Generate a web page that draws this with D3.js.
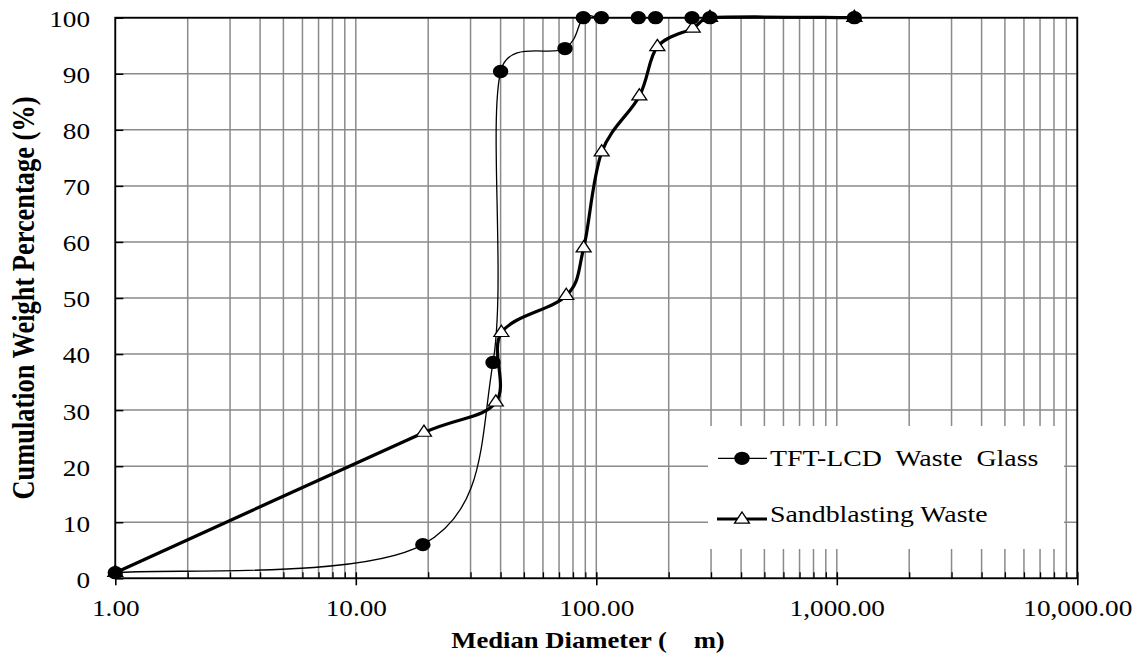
<!DOCTYPE html>
<html>
<head>
<meta charset="utf-8">
<script src="https://cdn.jsdelivr.net/npm/d3@7"></script>
<style>
  html, body { margin: 0; padding: 0; background: #fff; }
  svg { display: block; }
  svg text { font-family: "Liberation Serif", "Times New Roman", Tinos, "DejaVu Serif", serif; fill: #000; }
</style>
</head>
<body>
<svg id="chart" width="1137" height="662"></svg>
<script>
// Cumulative particle size distribution of two waste materials (sieve sizes in µm)
const tftSize  = [1, 19, 37.2, 40, 74.1, 88.3, 105, 149.5, 176.4, 250, 297, 1183];
const tftPct   = [1, 6, 38.5, 90.4, 94.5, 100, 100, 100, 100, 100, 100, 100];
const sandSize = [1, 19.2, 38.2, 40.3, 75, 88.6, 105.3, 151, 179.4, 251.7, 297, 1183];
const sandPct  = [1, 26, 31.4, 43.8, 50.4, 58.9, 76, 86, 94.8, 98.1, 100, 100];

const seriesNames = ["TFT-LCD  Waste  Glass", "Sandblasting Waste"];
const xTickValues = [1, 10, 100, 1000, 10000];
const xTickLabels = ["1.00", "10.00", "100.00", "1,000.00", "10,000.00"];
const yTickValues = [0, 10, 20, 30, 40, 50, 60, 70, 80, 90, 100];
const xTitle = "Median Diameter (    m)";
const yTitle = "Cumulation Weight Percentage (%)";

const sx = 1.16;            // horizontal stretch applied to text and markers
const gridColor = "#8a8a8a";

const svg = d3.select("#chart");
const plotL = 115.3, plotR = 1077.3, plotT = 17.7, plotB = 578.3;

const x = d3.scaleLog().domain([1, 10000]).range([plotL, plotR]);
const y = d3.scaleLinear().domain([0, 100]).range([plotB, plotT]);

// Smoothed line: Bezier segments with Catmull-Rom style tangents (1/6 of the
// neighbour span), each control arm limited to half of its segment's chord.
function smoothCurve(context) {
  let pts;
  return {
    areaStart() {}, areaEnd() {},
    lineStart() { pts = []; },
    point(px, py) { pts.push([+px, +py]); },
    lineEnd() {
      const n = pts.length;
      if (!n) return;
      context.moveTo(pts[0][0], pts[0][1]);
      for (let i = 0; i < n - 1; i++) {
        const p0 = pts[Math.max(i - 1, 0)], p1 = pts[i], p2 = pts[i + 1], p3 = pts[Math.min(i + 2, n - 1)];
        const half = 0.5 * Math.hypot(p2[0] - p1[0], p2[1] - p1[1]);
        const cap = v => {
          const l = Math.hypot(v[0], v[1]);
          return l > half ? [v[0] * half / l, v[1] * half / l] : v;
        };
        const t1 = cap([(p2[0] - p0[0]) / 6, (p2[1] - p0[1]) / 6]);
        const t2 = cap([(p3[0] - p1[0]) / 6, (p3[1] - p1[1]) / 6]);
        context.bezierCurveTo(p1[0] + t1[0], p1[1] + t1[1], p2[0] - t2[0], p2[1] - t2[1], p2[0], p2[1]);
      }
    }
  };
}

// grid
const grid = svg.append("g");
grid.selectAll("line.v").data(x.ticks()).join("line").attr("class", "v")
  .attr("x1", d => x(d)).attr("x2", d => x(d))
  .attr("y1", plotT).attr("y2", plotB)
  .attr("stroke", gridColor).attr("stroke-width", 1.5);
grid.selectAll("line.h").data(yTickValues).join("line").attr("class", "h")
  .attr("x1", plotL).attr("x2", plotR)
  .attr("y1", d => y(d)).attr("y2", d => y(d))
  .attr("stroke", gridColor).attr("stroke-width", 1.5);

// legend background hides the grid underneath
svg.append("rect").attr("x", 708).attr("y", 426).attr("width", 356).attr("height", 123).attr("fill", "#fff");

// frame
svg.append("rect").attr("x", plotL).attr("y", plotT)
  .attr("width", plotR - plotL).attr("height", plotB - plotT)
  .attr("fill", "none").attr("stroke", "#000").attr("stroke-width", 1.8);

// x axis: minor ticks inside, major ticks crossing with labels
const minor = x.ticks().filter(d => !xTickValues.includes(d));
svg.append("g").attr("transform", `translate(0,${plotB})`)
  .call(d3.axisBottom(x).tickValues(minor).tickSizeInner(-6).tickSizeOuter(0).tickFormat(""))
  .call(g => g.select(".domain").remove())
  .call(g => g.selectAll("line").attr("stroke", "#000").attr("stroke-width", 1.3));

const xAxis = svg.append("g").attr("transform", `translate(0,${plotB})`)
  .call(d3.axisBottom(x).tickValues(xTickValues).tickSizeInner(7).tickSizeOuter(0)
    .tickFormat((d, i) => xTickLabels[i]))
  .call(g => g.select(".domain").remove())
  .attr("font-family", null).attr("font-size", null);
xAxis.selectAll("line").attr("y1", -6).attr("stroke", "#000").attr("stroke-width", 1.6);
xAxis.selectAll("text")
  .attr("y", 38).attr("dy", 0)
  .attr("transform", `scale(${sx},1)`)
  .attr("font-size", 23.5);

// y axis
const yAxis = svg.append("g").attr("transform", `translate(${plotL},0)`)
  .call(d3.axisLeft(y).tickValues(yTickValues).tickSizeInner(-8).tickSizeOuter(0).tickPadding(25))
  .call(g => g.select(".domain").remove())
  .attr("font-family", null).attr("font-size", null);
yAxis.selectAll("line").attr("stroke", "#000").attr("stroke-width", 1.5);
yAxis.selectAll("text")
  .attr("x", -25.3 / sx).attr("dy", "0.38em")
  .attr("transform", `scale(${sx},1)`)
  .attr("font-size", 23.5);

// titles
svg.append("text")
  .attr("transform", `translate(588,648) scale(${sx},1)`)
  .attr("text-anchor", "middle").attr("font-weight", "bold").attr("font-size", 23)
  .style("white-space", "pre")
  .text(xTitle);
svg.append("text")
  .attr("transform", `translate(33.5,298) scale(${sx},1) rotate(-90)`)
  .attr("text-anchor", "middle").attr("font-weight", "bold").attr("font-size", 26.4)
  .text(yTitle);

// series
const tftData = tftSize.map((s, i) => [s, tftPct[i]]);
const sandData = sandSize.map((s, i) => [s, sandPct[i]]);
const line = d3.line().x(d => x(d[0])).y(d => y(d[1])).curve(smoothCurve);

svg.append("path").datum(sandData).attr("d", line)
  .attr("fill", "none").attr("stroke", "#000").attr("stroke-width", 3.2);
svg.append("path").datum(tftData).attr("d", line)
  .attr("fill", "none").attr("stroke", "#000").attr("stroke-width", 1.3);

const circle = d3.symbol().type(d3.symbolCircle).size(139);
const tri = d3.symbol().type(d3.symbolTriangle).size(72);

svg.append("g").selectAll("path").data(sandData).join("path")
  .attr("d", tri)
  .attr("transform", d => `translate(${x(d[0])},${y(d[1])}) scale(${sx},1)`)
  .attr("fill", "#fff").attr("stroke", "#000").attr("stroke-width", 1.2);
svg.append("g").selectAll("path").data(tftData).join("path")
  .attr("d", circle)
  .attr("transform", d => `translate(${x(d[0])},${y(d[1])}) scale(${sx},1)`)
  .attr("fill", "#000");

// legend
const legend = svg.append("g");
legend.append("line").attr("x1", 718).attr("x2", 767).attr("y1", 458.3).attr("y2", 458.3)
  .attr("stroke", "#000").attr("stroke-width", 1.3);
legend.append("path").attr("d", circle).attr("transform", `translate(742,458.3) scale(${sx},1)`).attr("fill", "#000");
legend.append("line").attr("x1", 717).attr("x2", 767).attr("y1", 519).attr("y2", 519)
  .attr("stroke", "#000").attr("stroke-width", 3.2);
legend.append("path").attr("d", tri).attr("transform", `translate(742,519.5) scale(${sx},1)`)
  .attr("fill", "#fff").attr("stroke", "#000").attr("stroke-width", 1.2);
legend.selectAll("text").data(seriesNames).join("text")
  .attr("transform", (d, i) => `translate(770,${i === 0 ? 466 : 521.7}) scale(${sx},1)`)
  .attr("font-size", 24).style("white-space", "pre")
  .text(d => d);
</script>
</body>
</html>
